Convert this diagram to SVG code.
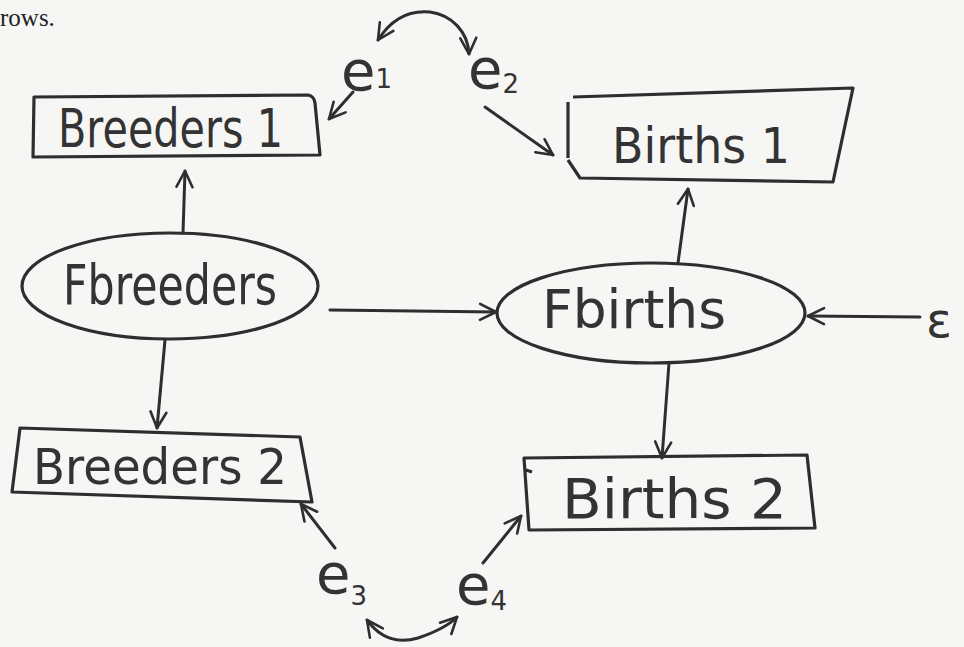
<svg xmlns="http://www.w3.org/2000/svg" width="964" height="647" viewBox="0 0 964 647">
<defs>
<style>
.ln{fill:none;stroke:#2e2e2e;stroke-width:3;stroke-linecap:round;stroke-linejoin:round}
.bx{fill:none;stroke:#2e2e2e;stroke-width:3.2;stroke-linejoin:round}
.t{font-family:"DejaVu Sans","Liberation Sans",sans-serif;fill:#333}
.e{font-size:56px}
.sub{font-size:26px}
</style>
<marker id="ah" viewBox="0 0 20 20" refX="18" refY="10" markerWidth="20" markerHeight="20" markerUnits="userSpaceOnUse" orient="auto-start-reverse" overflow="visible">
<path d="M2,2 L18,10 L2,18" fill="none" stroke="#2e2e2e" stroke-width="2.6" stroke-linecap="round" stroke-linejoin="round"/>
</marker>
</defs>
<rect width="964" height="647" fill="#f6f6f4"/>
<text x="0" y="26" style="font-family:'Liberation Serif',serif;font-size:25px;fill:#222">rows.</text>

<g id="breeders1">
<path class="bx" d="M34,97 L308,95 Q314,96 315,103 L320,155 L33,157 Z"/>
<text class="t" x="58" y="147" font-size="54" textLength="225" lengthAdjust="spacingAndGlyphs">Breeders 1</text>
</g>
<g id="births1">
<path class="bx" d="M573,97 L853,88 L833,182 L580,178 L568,160 M568,102 L568,158"/>
<text class="t" x="612" y="163" font-size="50" textLength="178" lengthAdjust="spacingAndGlyphs">Births 1</text>
</g>
<g id="fbreeders">
<ellipse class="bx" cx="170" cy="286" rx="148" ry="53"/>
<text class="t" x="63" y="304" font-size="56" textLength="214" lengthAdjust="spacingAndGlyphs">Fbreeders</text>
</g>
<g id="fbirths">
<ellipse class="bx" cx="651" cy="313" rx="154" ry="50"/>
<text class="t" x="542" y="328" font-size="54" textLength="184" lengthAdjust="spacingAndGlyphs">Fbirths</text>
</g>
<g id="breeders2">
<path class="bx" d="M20,428 L300,437 L312,502 L12,492 Z"/>
<text class="t" x="33" y="484" font-size="50" textLength="254" lengthAdjust="spacingAndGlyphs">Breeders 2</text>
</g>
<g id="births2">
<path class="bx" d="M524,458 L807,455 L815,528 L529,530 Z M526,470 L532,472"/>
<text class="t" x="562" y="518" font-size="56" textLength="225" lengthAdjust="spacingAndGlyphs">Births 2</text>
</g>
<g id="e1"><text class="t e" x="341" y="90">e<tspan class="sub" dy="-2">1</tspan></text></g>
<g id="e2"><text class="t e" x="468" y="88">e<tspan class="sub" dy="5">2</tspan></text></g>
<g id="e3"><text class="t e" x="316" y="593">e<tspan class="sub" font-size="32" dy="12">3</tspan></text></g>
<g id="e4"><text class="t e" x="456" y="604">e<tspan class="sub" dy="6">4</tspan></text></g>
<g id="eps"><text class="t" x="926" y="337" font-size="48">ε</text></g>

<g id="connectors">
<path class="ln" marker-start="url(#ah)" marker-end="url(#ah)" d="M378,40 C392,18 410,10 430,12 C452,15 468,32 469,54"/>
<path class="ln" marker-end="url(#ah)" d="M353,92 L329,119"/>
<path class="ln" marker-end="url(#ah)" d="M485,107 L553,155"/>
<path class="ln" marker-end="url(#ah)" d="M183,233 L185,171"/>
<path class="ln" marker-end="url(#ah)" d="M678,263 L688,189"/>
<path class="ln" marker-end="url(#ah)" d="M165,340 L157,428"/>
<path class="ln" marker-end="url(#ah)" d="M330,310 L496,312"/>
<path class="ln" marker-end="url(#ah)" d="M920,317 L808,316"/>
<path class="ln" marker-end="url(#ah)" d="M669,363 L662,458"/>
<path class="ln" marker-end="url(#ah)" d="M335,548 L301,504"/>
<path class="ln" marker-end="url(#ah)" d="M483,563 L521,516"/>
<path class="ln" marker-start="url(#ah)" marker-end="url(#ah)" d="M367,620 C380,638 398,644 418,638 C436,632 448,626 457,617"/>
</g>
</svg>
